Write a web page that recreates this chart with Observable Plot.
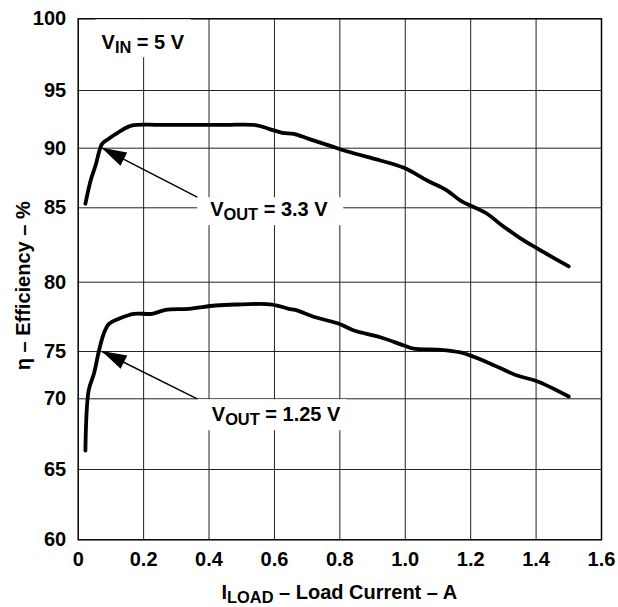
<!DOCTYPE html>
<html>
<head>
<meta charset="utf-8">
<script src="https://cdn.jsdelivr.net/npm/d3@7"></script>
<script src="https://cdn.jsdelivr.net/npm/@observablehq/plot@0.6"></script>
<style>
  body { margin: 0; background: #fff; }
  svg { display: block; }
</style>
</head>
<body>
<div id="chart"></div>
<script>
// ---- data ----
const xTicks = [0, 0.2, 0.4, 0.6, 0.8, 1.0, 1.2, 1.4, 1.6];
const yTicks = [60, 65, 70, 75, 80, 85, 90, 95, 100];

const load33 = [0.022, 0.038, 0.053, 0.073, 0.089, 0.124, 0.165, 0.25, 0.45, 0.542, 0.583, 0.624, 0.659, 0.705, 0.771, 0.832, 0.924, 0.996, 1.067, 1.128, 1.169, 1.250, 1.291, 1.342, 1.393, 1.500];
const eff33  = [85.34, 87.3, 88.55, 90.38, 90.73, 91.39, 91.97, 92.02, 92.02, 92.0, 91.68, 91.33, 91.25, 90.81, 90.2, 89.66, 88.97, 88.35, 87.29, 86.45, 85.6, 84.6, 83.9, 83.1, 82.4, 81.06];

const load125 = [0.022, 0.032, 0.048, 0.063, 0.078, 0.094, 0.124, 0.170, 0.226, 0.267, 0.338, 0.420, 0.481, 0.593, 0.644, 0.664, 0.725, 0.797, 0.843, 0.924, 0.996, 1.026, 1.098, 1.169, 1.250, 1.342, 1.403, 1.500];
const eff125  = [66.34, 70.88, 72.64, 75.0, 76.28, 77.0, 77.36, 77.72, 77.72, 78.0, 78.08, 78.32, 78.39, 78.39, 78.08, 78.0, 77.47, 77.0, 76.52, 76.03, 75.43, 75.2, 75.14, 74.9, 73.87, 72.46, 71.86, 70.24];

const arrowFromX = [0.364, 0.364];
const arrowFromY = [85.9, 70];
const arrowToX   = [0.073, 0.073];
const arrowToY   = [90, 75];

const labelMain = ["V", "V", "V"];
const labelSub  = ["IN", "OUT", "OUT"];
const labelRest = [" = 5 V", " = 3.3 V", " = 1.25 V"];
const labelX    = [0.073, 0.405, 0.41];
const labelY    = [98.35, 84.89, 68.89];

const xTitle = ["I", "LOAD", " – Load Current – A"];
const yTitle = "η – Efficiency – %";

// ---- layout (not data) ----
const W = 618, H = 607;
const M = {left: 77.7, right: 17, top: 18.3, bottom: 67.7};
// the printed y axis has uneven gridline spacing: piecewise pixel range per tick
const yRange = [539.3, 469, 398.3, 351, 281.7, 207.3, 147.7, 90, 18.3];
const FONT = "Arial, 'Liberation Sans', Helvetica, sans-serif";
const FS = 20;
const boxPad = [{l: 6, r: 6, t: 0, b: 1, toTop: true}, {l: 13, r: 15, t: 1, b: 2}, {l: 14, r: 6, t: 4, b: 2}];

const s33 = load33.map((x, i) => ({x, y: eff33[i]}));
const s125 = load125.map((x, i) => ({x, y: eff125[i]}));
const arrows = arrowFromX.map((_, i) => ({x1: arrowFromX[i], y1: arrowFromY[i], x2: arrowToX[i], y2: arrowToY[i]}));

const plot = Plot.plot({
  width: W, height: H,
  marginLeft: M.left, marginRight: M.right, marginTop: M.top, marginBottom: M.bottom,
  x: {domain: [0, 1.6], axis: null},
  y: {type: "linear", domain: yTicks, range: yRange, axis: null},
  style: {fontFamily: FONT, background: "#fff", color: "#000"},
  marks: [
    Plot.ruleX(xTicks.slice(1, -1), {stroke: "#222", strokeWidth: 1}),
    Plot.ruleY(yTicks.slice(1, -1), {stroke: "#222", strokeWidth: 1}),
    Plot.frame({stroke: "#000", strokeWidth: 1.5}),
    Plot.line(s33, {x: "x", y: "y", stroke: "#000", strokeWidth: 3.8, curve: "catmull-rom", strokeLinecap: "round", strokeLinejoin: "round"}),
    Plot.line(s125, {x: "x", y: "y", stroke: "#000", strokeWidth: 3.8, curve: "catmull-rom", strokeLinecap: "round", strokeLinejoin: "round"}),
    Plot.link(arrows, {x1: "x1", y1: "y1", x2: "x2", y2: "y2", stroke: "#000", strokeWidth: 1.4}),
    Plot.text(xTicks, {x: d => d, text: d => d === 0 ? "0" : d.toFixed(1), frameAnchor: "bottom", dy: 26, fontSize: FS, fontWeight: 700, fill: "#000"}),
    Plot.text(yTicks, {y: d => d, text: d => String(d), frameAnchor: "left", dx: -12, textAnchor: "end", fontSize: FS, fontWeight: 700, fill: "#000"})
  ]
});
document.getElementById("chart").append(plot);

const sx = plot.scale("x"), sy = plot.scale("y");
const svg = d3.select(plot);
const g = svg.append("g");

// arrowheads
arrows.forEach(a => {
  const px = sx.apply(a.x2), py = sy.apply(a.y2);
  const tx = sx.apply(a.x1), ty = sy.apply(a.y1);
  const len = Math.hypot(px - tx, py - ty);
  const ux = (px - tx) / len, uy = (py - ty) / len;
  const L = 25, Wd = 7.5;
  const bx = px - ux * L, by = py - uy * L;
  g.append("polygon")
    .attr("points", [[px, py], [bx - uy * Wd, by + ux * Wd], [bx + uy * Wd, by - ux * Wd]].map(p => p.join(",")).join(" "))
    .attr("fill", "#000");
});

function richText(parent, parts, attrs) {
  const t = parent.append("text")
    .attr("font-family", FONT).attr("font-size", FS).attr("font-weight", 700)
    .attr("fill", "#000").attr("text-anchor", "start");
  Object.entries(attrs).forEach(([k, v]) => t.attr(k, v));
  parts.forEach(p => {
    const ts = t.append("tspan").text(p.t);
    if (p.sub) ts.attr("font-size", FS * 0.82).attr("dy", 4);
    if (p.after) ts.attr("dy", -4);
  });
  return t;
}

// annotation labels with white boxes
const frameTop = M.top;
labelMain.forEach((m, i) => {
  const x = sx.apply(labelX[i]);
  const y = sy.apply(labelY[i]) + FS * 0.36;
  const lg = g.append("g");
  const rect = lg.append("rect").attr("fill", "#fff");
  const t = richText(lg, [{t: m}, {t: labelSub[i], sub: true}, {t: labelRest[i], after: true}], {x, y});
  const bb = t.node().getBBox();
  const p = boxPad[i];
  const top = p.toTop ? frameTop + 1 : bb.y - p.t;
  rect.attr("x", bb.x - p.l).attr("y", top)
      .attr("width", bb.width + p.l + p.r).attr("height", bb.y + bb.height + p.b - top);
});

// axis titles
const xc = (M.left + (W - M.right)) / 2;
richText(g, [{t: xTitle[0]}, {t: xTitle[1], sub: true}, {t: xTitle[2], after: true}], {x: xc, y: 592 + FS * 0.36, "text-anchor": "middle"});
richText(g, [{t: yTitle}], {transform: `translate(23,${(M.top + (H - M.bottom)) / 2 + 7}) rotate(-90)`, "text-anchor": "middle", dy: "0.36em"});
</script>
</body>
</html>
